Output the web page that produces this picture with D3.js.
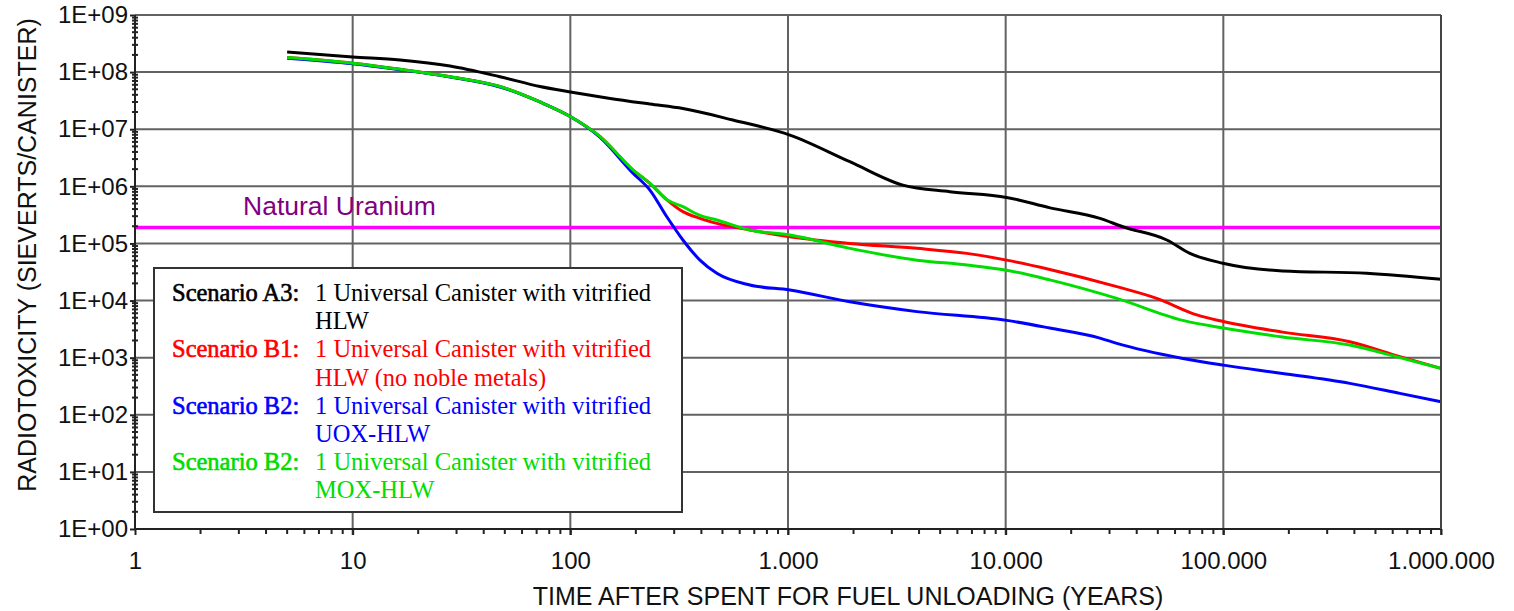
<!DOCTYPE html>
<html>
<head>
<meta charset="utf-8">
<script src="https://cdn.jsdelivr.net/npm/d3@7"></script>
<style>
  body { margin: 0; background: #fff; }
  svg { display: block; }
  .axis path, .axis line { stroke: #222; stroke-width: 2; }
  .axis text { font-family: "Liberation Sans", Arial, sans-serif; font-size: 24px; fill: #111; }
  .grid line { stroke: #626262; stroke-width: 2; }
  .title { font-family: "Liberation Sans", Arial, sans-serif; font-size: 25px; fill: #111; }
  .legend text { font-family: "Liberation Serif", "Times New Roman", serif; font-size: 24.5px; }
</style>
</head>
<body>
<svg width="1514" height="611"></svg>
<script>
// years after unloading, value in Sv/canister
const yearsA3 = [5, 10, 16.5, 28, 47.5, 72.5, 100, 150, 232, 329, 558, 1020, 1923, 3370, 5540, 10100, 16000, 27100, 34500, 55000, 70200, 99500, 187000, 456000, 1000000];
const valuesA3 = [2.24e8, 1.84e8, 1.63e8, 1.28e8, 8.3e7, 5.6e7, 4.5e7, 3.5e7, 2.76e7, 2.3e7, 1.45e7, 7.9e6, 2.7e6, 1.05e6, 8.05e5, 6.4e5, 4.2e5, 2.75e5, 1.96e5, 1.15e5, 6.7e4, 4.5e4, 3.3e4, 3.0e4, 2.35e4];

const yearsB1 = [5, 10, 16.5, 28, 47.5, 72.5, 99, 137, 194, 232, 278, 329, 394, 471, 668, 1020, 1923, 3910, 6630, 10100, 15950, 32400, 49400, 75500, 100000, 187000, 381000, 647000, 1000000];
const valuesB1 = [1.8e8, 1.43e8, 1.12e8, 8.3e7, 5.6e7, 3.0e7, 1.7e7, 7.4e6, 1.93e6, 1.13e6, 5.8e5, 3.6e5, 2.75e5, 2.25e5, 1.72e5, 1.31e5, 1.0e5, 8.2e4, 6.7e4, 5.1e4, 3.5e4, 1.75e4, 1.09e4, 5.6e3, 4.3e3, 2.8e3, 1.9e3, 1.04e3, 650];

const yearsUOX = [5, 10, 16.5, 28, 47.5, 72.5, 99, 137, 194, 232, 278, 329, 394, 471, 668, 1020, 1923, 3910, 10100, 15950, 27100, 32400, 65200, 100000, 187000, 381000, 647000, 1000000];
const valuesUOX = [1.75e8, 1.4e8, 1.1e8, 8.2e7, 5.5e7, 3.0e7, 1.7e7, 7.2e6, 1.7e6, 8.6e5, 2.9e5, 1.15e5, 5.1e4, 3.0e4, 1.87e4, 1.53e4, 9.5e3, 6.4e3, 4.5e3, 3.3e3, 2.2e3, 1.78e3, 970, 740, 530, 355, 237, 169];

const yearsMOX = [5, 10, 16.5, 28, 47.5, 72.5, 99, 137, 194, 232, 278, 329, 394, 471, 668, 1020, 1923, 3910, 6630, 10100, 15950, 32400, 65200, 100000, 187000, 381000, 647000, 1000000];
const valuesMOX = [1.8e8, 1.43e8, 1.12e8, 8.3e7, 5.6e7, 3.0e7, 1.7e7, 7.4e6, 1.95e6, 1.13e6, 5.8e5, 4.4e5, 3.1e5, 2.57e5, 1.72e5, 1.4e5, 8.2e4, 5.1e4, 4.2e4, 3.4e4, 2.3e4, 1.09e4, 4.5e3, 3.3e3, 2.3e3, 1.66e3, 1.0e3, 650];

const naturalUranium = 1.9e5;

const xTicks = [1, 10, 100, 1000, 10000, 100000, 1000000];
const yTicks = [1, 10, 100, 1e3, 1e4, 1e5, 1e6, 1e7, 1e8, 1e9];

const scenarioLabels = ["Scenario A3:", "Scenario B1:", "Scenario B2:", "Scenario B2:"];
const scenarioText = [
  ["1 Universal Canister with vitrified", "HLW"],
  ["1 Universal Canister with vitrified", "HLW (no noble metals)"],
  ["1 Universal Canister with vitrified", "UOX-HLW"],
  ["1 Universal Canister with vitrified", "MOX-HLW"]
];
const scenarioColors = ["#000000", "#ff0000", "#0000ff", "#00dd00"];

const series = [
  { years: yearsA3, values: valuesA3, color: scenarioColors[0] },
  { years: yearsB1, values: valuesB1, color: scenarioColors[1] },
  { years: yearsUOX, values: valuesUOX, color: scenarioColors[2] },
  { years: yearsMOX, values: valuesMOX, color: scenarioColors[3] }
];

const svg = d3.select("svg");
const plotLeft = 135, plotTop = 15, plotRight = 1441, plotBottom = 529;

const x = d3.scaleLog().domain([1, 1e6]).range([plotLeft, plotRight]);
const y = d3.scaleLog().domain([1, 1e9]).range([plotBottom, plotTop]);

const nl = d3.formatLocale({ decimal: ",", thousands: ".", grouping: [3], currency: ["", ""] });
const fmtX = nl.format(",");

// grid
const minorX = [], minorY = [];
for (let e = 0; e < 6; e++) for (let k = 2; k < 10; k++) minorX.push(k * Math.pow(10, e));
for (let e = 0; e < 9; e++) for (let k = 2; k < 10; k++) minorY.push(k * Math.pow(10, e));

const grid = svg.append("g").attr("class", "grid");
grid.selectAll(".gx").data(xTicks.slice(1)).join("line")
  .attr("class", "gx")
  .attr("x1", d => x(d)).attr("x2", d => x(d))
  .attr("y1", plotTop).attr("y2", plotBottom + 6);
grid.selectAll(".gy").data(yTicks.slice(1)).join("line")
  .attr("class", "gy")
  .attr("x1", plotLeft).attr("x2", plotRight)
  .attr("y1", d => y(d)).attr("y2", d => y(d));

// legend box (white, hides grid behind it)
const legend = svg.append("g").attr("class", "legend");
legend.append("rect")
  .attr("x", 154).attr("y", 268).attr("width", 528).attr("height", 244)
  .attr("fill", "#fff").attr("stroke", "#333").attr("stroke-width", 2);

scenarioLabels.forEach((lab, i) => {
  const base = 301 + i * 2 * 28.2;
  legend.append("text").attr("x", 172).attr("y", base)
    .attr("fill", scenarioColors[i])
    .attr("stroke", scenarioColors[i]).attr("stroke-width", 0.6)
    .text(lab);
  scenarioText[i].forEach((t, j) => {
    legend.append("text").attr("x", 315).attr("y", base + j * 28.2)
      .attr("fill", scenarioColors[i]).text(t);
  });
});

// natural uranium reference line
svg.append("line")
  .attr("x1", plotLeft).attr("x2", plotRight)
  .attr("y1", y(naturalUranium)).attr("y2", y(naturalUranium))
  .attr("stroke", "#ff00ff").attr("stroke-width", 3.5);
svg.append("text")
  .attr("x", 243).attr("y", 215)
  .attr("font-family", "'Liberation Sans', Arial, sans-serif")
  .attr("font-size", 26.5).attr("fill", "#800080")
  .text("Natural Uranium");

// curves
const line = d3.line()
  .x(d => x(d[0]))
  .y(d => y(d[1]))
  .curve(d3.curveMonotoneX);

series.forEach(s => {
  svg.append("path")
    .datum(s.years.map((t, i) => [t, s.values[i]]))
    .attr("fill", "none")
    .attr("stroke", s.color)
    .attr("stroke-width", 3)
    .attr("d", line);
});

// axes
const xAxis = svg.append("g").attr("class", "axis")
  .attr("transform", `translate(0,${plotBottom})`)
  .call(d3.axisBottom(x).tickValues(xTicks).tickFormat(fmtX).tickSize(6).tickPadding(17));
xAxis.select(".domain").attr("d", `M${plotLeft},0H${plotRight}`);
xAxis.selectAll(".minor").data(minorX).join("line")
  .attr("class", "minor")
  .attr("x1", d => x(d)).attr("x2", d => x(d))
  .attr("y1", 0).attr("y2", 5)
  .attr("stroke", "#222").attr("stroke-width", 2);

const yAxis = svg.append("g").attr("class", "axis")
  .attr("transform", `translate(${plotLeft},0)`)
  .call(d3.axisLeft(y).tickValues(yTicks)
    .tickFormat(d => "1E+" + String(Math.round(Math.log10(d))).padStart(2, "0"))
    .tickSize(5).tickPadding(2));
yAxis.select(".domain").attr("d", `M0,${plotTop}V${plotBottom}`);
yAxis.selectAll(".minor").data(minorY).join("line")
  .attr("class", "minor")
  .attr("x1", -3).attr("x2", 3)
  .attr("y1", d => y(d)).attr("y2", d => y(d))
  .attr("stroke", "#444").attr("stroke-width", 1.5);

// right border
svg.append("line")
  .attr("x1", plotRight).attr("x2", plotRight).attr("y1", plotTop).attr("y2", plotBottom)
  .attr("stroke", "#444").attr("stroke-width", 2);

// titles
svg.append("text").attr("class", "title")
  .attr("x", 848).attr("y", 605).attr("text-anchor", "middle")
  .text("TIME AFTER SPENT FOR FUEL UNLOADING (YEARS)");
svg.append("text").attr("class", "title")
  .attr("transform", "translate(36,255) rotate(-90)")
  .attr("text-anchor", "middle")
  .text("RADIOTOXICITY (SIEVERTS/CANISTER)");
</script>
</body>
</html>
